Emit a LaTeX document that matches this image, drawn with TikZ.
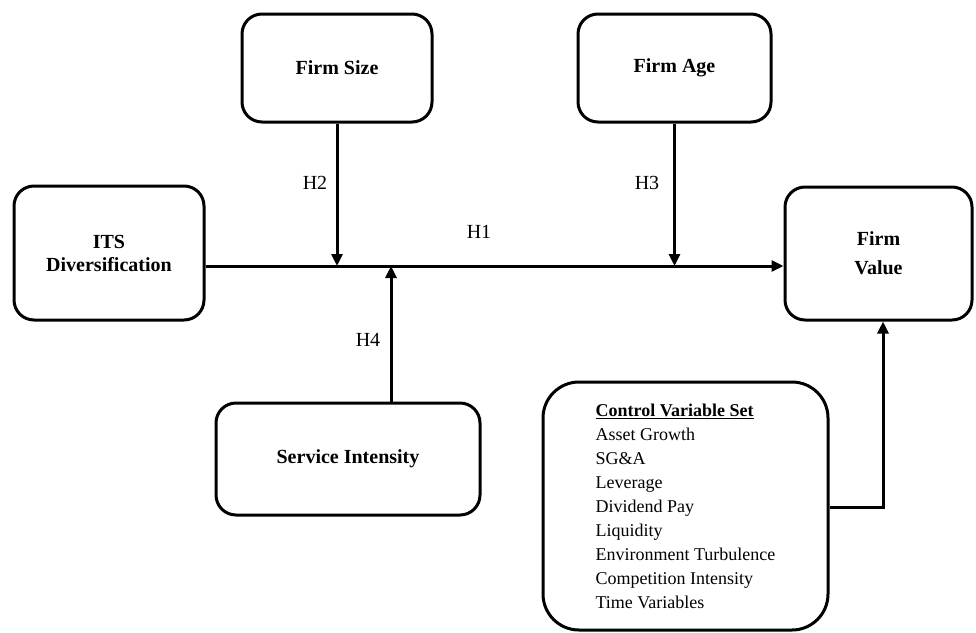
\documentclass[tikz,border=0pt]{standalone}
\usepackage{fontspec}
\setmainfont{Liberation Serif}
\usetikzlibrary{arrows.meta}

\tikzset{
	varbox/.style={draw, line width=3pt, rounded corners=20pt, align=center,
		font=\fontsize{20}{23}\selectfont\bfseries},
	conn/.style={line width=3pt},
	tip/.style={-{Triangle[length=12pt,width=11pt]}},
	hyp/.style={font=\fontsize{20}{24}\selectfont}
}

\begin{document}
\begin{tikzpicture}[x=1pt, y=-1pt]
	\useasboundingbox (0,0) rectangle (976,632);
	% boxes
	\node[varbox, minimum width=190pt, minimum height=134pt] (its) at (109,253) {ITS\\Diversification};
	\node[varbox, minimum width=190pt, minimum height=108pt] (size) at (337,68) {Firm Size};
	\node[varbox, minimum width=193pt, minimum height=108pt] (age) at (674.5,68) {Firm Age};
	\node[varbox, minimum width=187pt, minimum height=133pt, font=\fontsize{20}{29}\selectfont\bfseries] (value) at (878.5,253.5) {Firm\\Value};
	\node[varbox, minimum width=264pt, minimum height=112pt] (service) at (348,459) {Service Intensity};
	\node[draw, line width=3pt, rounded corners=36pt, minimum width=285pt, minimum height=248pt,
		align=left, font=\fontsize{18}{24}\selectfont] (ctrl) at (685.5,506)
		{\textbf{\underline{Control Variable Set}}\\Asset Growth\\SG\&A\\Leverage\\Dividend Pay\\Liquidity\\Environment Turbulence\\Competition Intensity\\Time Variables};
	% main path
	\coordinate (hub) at ([yshift=-13pt]its.east);
	\draw[conn, tip] (hub) -- (hub -| value.west);
	\draw[conn, tip] (size.south) -- (size.south |- hub);
	\draw[conn, tip] (age.south) -- (age.south |- hub);
	\draw[conn, tip] (service.north -| 391,0) -- (391,0 |- hub);
	\coordinate (cv) at (883,507);
	\draw[conn, tip] (ctrl.east |- cv) -- (cv) -- (cv |- value.south);
	% hypotheses
	\node[hyp] (h1) at (479,232) {H1};
	\node[hyp] (h2) at (315,183) {H2};
	\node[hyp] (h3) at (647,183) {H3};
	\node[hyp] (h4) at (368,340) {H4};
\end{tikzpicture}
\end{document}
